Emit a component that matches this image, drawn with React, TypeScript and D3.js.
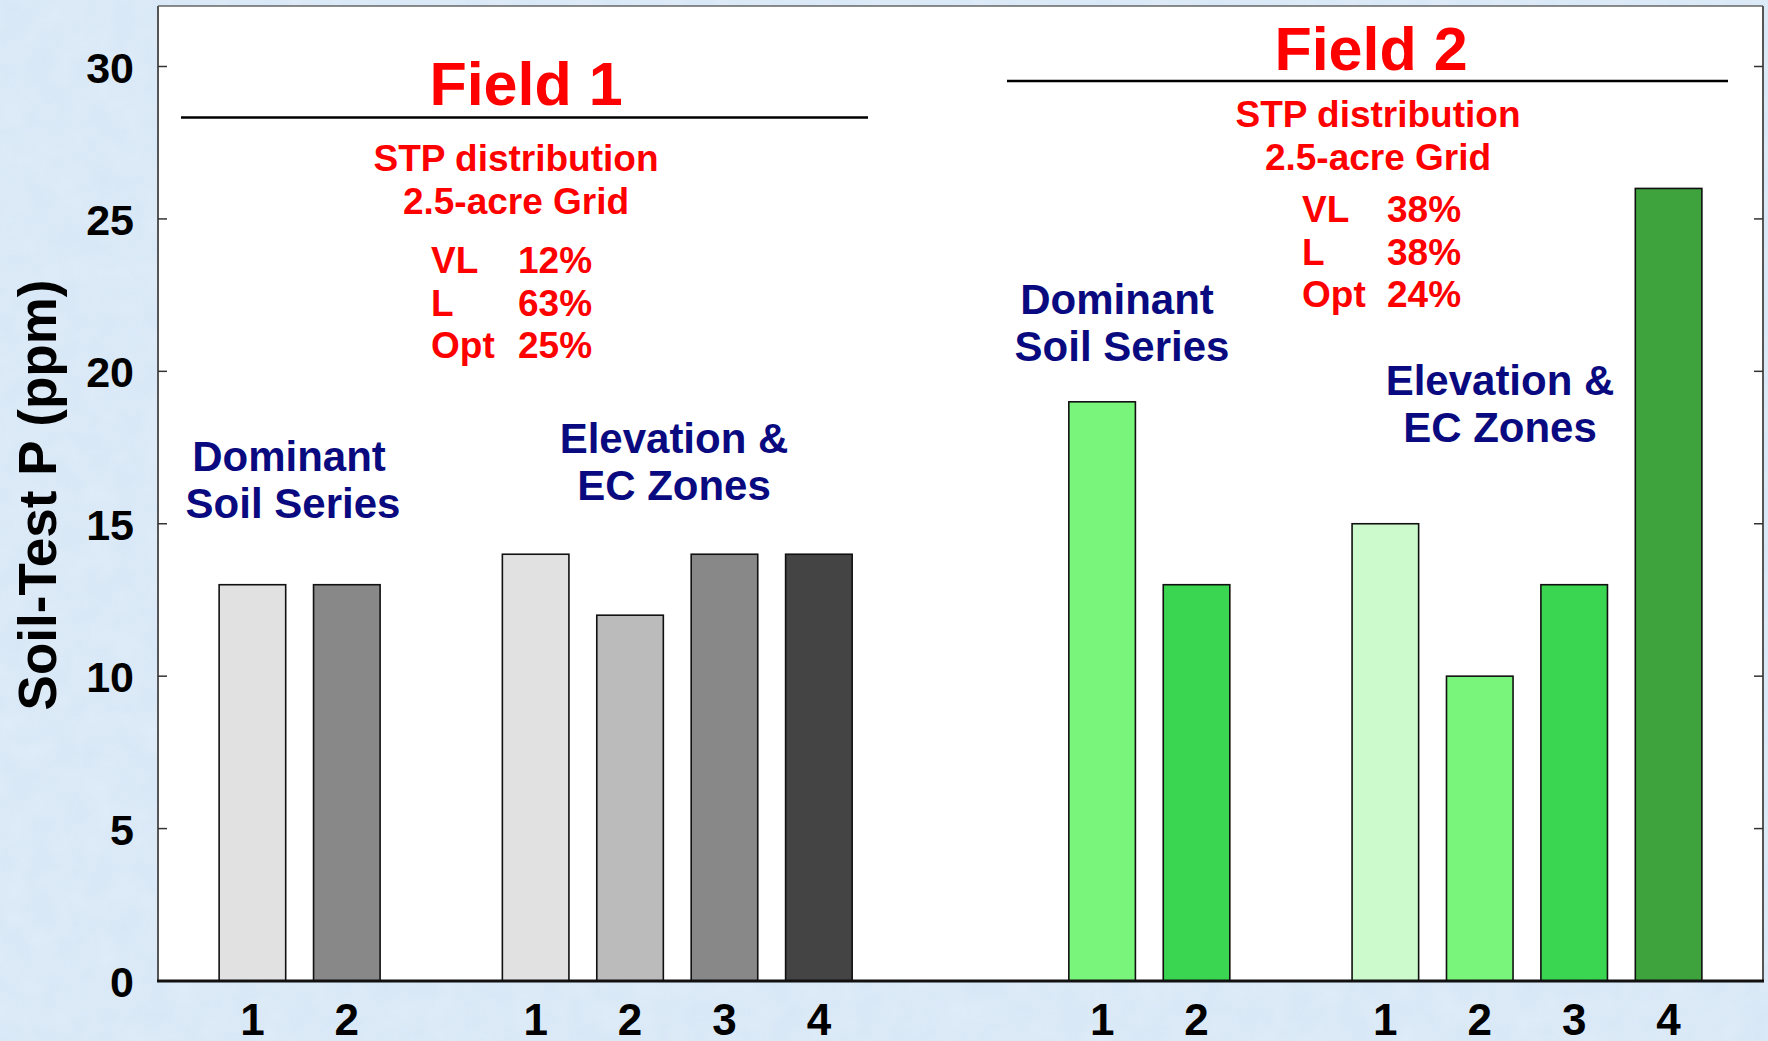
import React from "react";
import * as d3 from "d3";

const W = 1768;
const H = 1041;

// Data
const fields = ["Field 1", "Field 2"];
const groupNames = ["Dominant Soil Series", "Elevation & EC Zones"];
const field1SoilValues = [13, 13];
const field1ElevValues = [14, 12, 14, 14];
const field2SoilValues = [19, 13];
const field2ElevValues = [15, 10, 13, 26];
const field1SoilColors = ["#e1e1e1", "#888888"];
const field1ElevColors = ["#e1e1e1", "#bbbbbb", "#888888", "#444444"];
const field2SoilColors = ["#78f57a", "#3ad651"];
const field2ElevColors = ["#ccfacc", "#78f57a", "#3ad651", "#3ea33c"];
const yTicks = [0, 5, 10, 15, 20, 25, 30];
const field1Dist = [["VL", "12%"], ["L", "63%"], ["Opt", "25%"]];
const field2Dist = [["VL", "38%"], ["L", "38%"], ["Opt", "24%"]];

type Bar = { slot: number; value: number; color: string; label: string };

// groups laid out along slot index; a blank slot separates groups, two blanks separate fields
const groupsSpec = [
  { values: field1SoilValues, colors: field1SoilColors },
  { values: field1ElevValues, colors: field1ElevColors },
  { values: field2SoilValues, colors: field2SoilColors },
  { values: field2ElevValues, colors: field2ElevColors },
];
const gapsBefore = [0, 1, 2, 1];

const bars: Bar[] = [];
{
  let s = 0;
  groupsSpec.forEach((g, gi) => {
    s += gapsBefore[gi];
    g.values.forEach((v, i) => {
      bars.push({ slot: s, value: v, color: g.colors[i], label: String(i + 1) });
      s += 1;
    });
  });
}
const lastSlot = bars[bars.length - 1].slot;

const FONT = "'Liberation Sans', Arial, Helvetica, sans-serif";

export default function App() {
  const left = 158, right = 1763, top = 6, bottom = 981;
  const x = d3.scaleLinear().domain([-1, lastSlot + 1]).range([left, right]);
  const y = d3.scaleLinear().domain([0, 30]).range([bottom, 66.5]);
  const step = x(1) - x(0);
  const bw = step * 0.705;
  const red = "#ff0000";
  const navy = "#0a0a80";

  return (
    <svg
      width={W}
      height={H}
      style={{ position: "fixed", left: 0, top: 0, display: "block" }}
      fontFamily={FONT}
    >
      <defs>
        <filter id="tex" x="0" y="0" width="100%" height="100%">
          <feTurbulence type="fractalNoise" baseFrequency="0.035" numOctaves="3" seed="4" result="n" />
          <feColorMatrix
            in="n"
            type="matrix"
            values="0 0 0 0 0.80  0 0 0 0 0.88  0 0 0 0 0.96  0 0 0 0.55 0"
          />
        </filter>
      </defs>
      <rect x={0} y={0} width={W} height={H} fill="#d7e7f6" />
      <rect x={0} y={0} width={W} height={H} filter="url(#tex)" opacity={0.9} />
      <rect x={left} y={top} width={right - left} height={bottom - top} fill="#ffffff" />

      {/* bars */}
      {bars.map((b, i) => (
        <rect
          key={i}
          x={x(b.slot) - bw / 2}
          y={y(b.value)}
          width={bw}
          height={y(0) - y(b.value)}
          fill={b.color}
          stroke="#111"
          strokeWidth={1.6}
        />
      ))}

      {/* frame */}
      <line x1={left} y1={top} x2={right} y2={top} stroke="#666" strokeWidth={1.5} />
      <line x1={left} y1={top} x2={left} y2={bottom} stroke="#555" strokeWidth={2} />
      <line x1={right} y1={top} x2={right} y2={bottom} stroke="#555" strokeWidth={2} />
      <line x1={left - 1} y1={bottom} x2={right + 1} y2={bottom} stroke="#111" strokeWidth={3} />

      {/* y ticks */}
      {yTicks.map((t) => (
        <g key={t}>
          {t > 0 && <line x1={left} x2={left + 9} y1={y(t)} y2={y(t)} stroke="#333" strokeWidth={1.5} />}
          {t > 0 && <line x1={right - 9} x2={right} y1={y(t)} y2={y(t)} stroke="#333" strokeWidth={1.5} />}
          <text
            x={134}
            y={y(t) + 16}
            textAnchor="end"
            fontSize={43}
            fontWeight="bold"
            fill="#000"
          >
            {t}
          </text>
        </g>
      ))}

      {/* x labels */}
      {bars.map((b, i) => (
        <text
          key={"xl" + i}
          x={x(b.slot)}
          y={1035}
          textAnchor="middle"
          fontSize={44}
          fontWeight="bold"
          fill="#000"
        >
          {b.label}
        </text>
      ))}

      {/* y axis title */}
      <text
        transform={`translate(56, 495) rotate(-90)`}
        textAnchor="middle"
        fontSize={53}
        fontWeight="bold"
        fill="#000"
      >
        Soil-Test P (ppm)
      </text>

      {/* Field 1 annotations */}
      <text x={526} y={105} textAnchor="middle" fontSize={61} fontWeight="bold" fill={red}>
        {fields[0]}
      </text>
      <line x1={181} x2={868} y1={117.5} y2={117.5} stroke="#000" strokeWidth={2.5} />
      <text x={516} y={171} textAnchor="middle" fontSize={37} fontWeight="bold" fill={red}>
        STP distribution
      </text>
      <text x={516} y={214} textAnchor="middle" fontSize={37} fontWeight="bold" fill={red}>
        2.5-acre Grid
      </text>
      {field1Dist.map((d, i) => (
        <g key={"f1d" + i}>
          <text x={431} y={273 + i * 42.5} fontSize={37} fontWeight="bold" fill={red}>{d[0]}</text>
          <text x={518} y={273 + i * 42.5} fontSize={37} fontWeight="bold" fill={red}>{d[1]}</text>
        </g>
      ))}
      <text x={289} y={471} textAnchor="middle" fontSize={42} fontWeight="bold" fill={navy}>Dominant</text>
      <text x={293} y={518} textAnchor="middle" fontSize={42} fontWeight="bold" fill={navy}>Soil Series</text>
      <text x={674} y={453} textAnchor="middle" fontSize={42} fontWeight="bold" fill={navy}>Elevation &amp;</text>
      <text x={674} y={500} textAnchor="middle" fontSize={42} fontWeight="bold" fill={navy}>EC Zones</text>

      {/* Field 2 annotations */}
      <text x={1371} y={70} textAnchor="middle" fontSize={61} fontWeight="bold" fill={red}>
        {fields[1]}
      </text>
      <line x1={1007} x2={1728} y1={81} y2={81} stroke="#000" strokeWidth={2.5} />
      <text x={1378} y={127} textAnchor="middle" fontSize={37} fontWeight="bold" fill={red}>
        STP distribution
      </text>
      <text x={1378} y={170} textAnchor="middle" fontSize={37} fontWeight="bold" fill={red}>
        2.5-acre Grid
      </text>
      {field2Dist.map((d, i) => (
        <g key={"f2d" + i}>
          <text x={1302} y={222 + i * 42.5} fontSize={37} fontWeight="bold" fill={red}>{d[0]}</text>
          <text x={1387} y={222 + i * 42.5} fontSize={37} fontWeight="bold" fill={red}>{d[1]}</text>
        </g>
      ))}
      <text x={1117} y={314} textAnchor="middle" fontSize={42} fontWeight="bold" fill={navy}>Dominant</text>
      <text x={1122} y={361} textAnchor="middle" fontSize={42} fontWeight="bold" fill={navy}>Soil Series</text>
      <text x={1500} y={395} textAnchor="middle" fontSize={42} fontWeight="bold" fill={navy}>Elevation &amp;</text>
      <text x={1500} y={442} textAnchor="middle" fontSize={42} fontWeight="bold" fill={navy}>EC Zones</text>
      <title>{groupNames.join(" / ")}</title>
    </svg>
  );
}
